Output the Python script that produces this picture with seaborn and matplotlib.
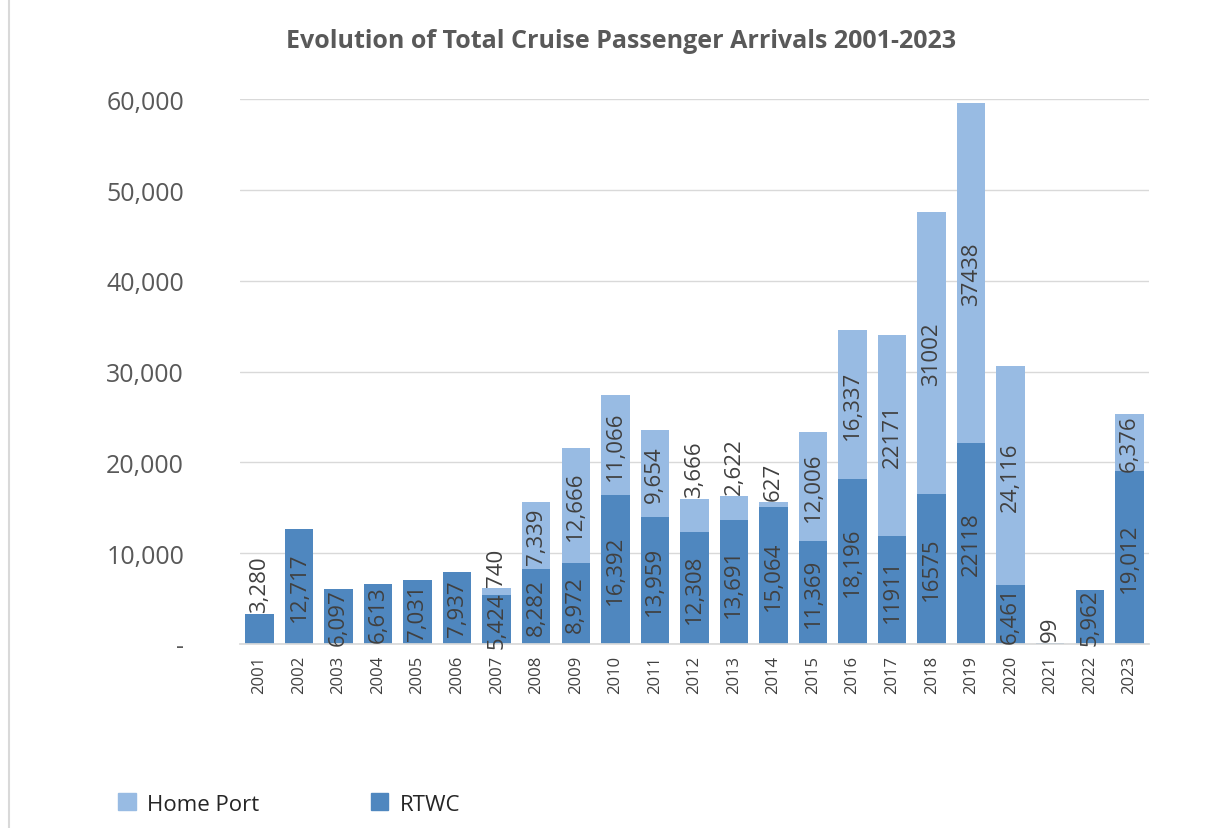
import matplotlib
matplotlib.use("Agg")
import matplotlib.pyplot as plt
import seaborn as sns
import pandas as pd
from matplotlib.patches import Patch

years = [str(y) for y in range(2001, 2024)]
rtwc = [3280, 12717, 6097, 6613, 7031, 7937, 5424, 8282, 8972, 16392, 13959,
        12308, 13691, 15064, 11369, 18196, 11911, 16575, 22118, 6461, 99, 5962, 19012]
home_port = [0, 0, 0, 0, 0, 0, 740, 7339, 12666, 11066, 9654,
             3666, 2622, 627, 12006, 16337, 22171, 31002, 37438, 24116, 0, 0, 6376]
rtwc_labels = ["3,280", "12,717", "6,097", "6,613", "7,031", "7,937", "5,424", "8,282",
               "8,972", "16,392", "13,959", "12,308", "13,691", "15,064", "11,369",
               "18,196", "11911", "16575", "22118", "6,461", "99", "5,962", "19,012"]
hp_labels = ["", "", "", "", "", "", "740", "7,339", "12,666", "11,066", "9,654",
             "3,666", "2,622", "627", "12,006", "16,337", "22171", "31002", "37438",
             "24,116", "", "", "6,376"]

df = pd.DataFrame({"Year": years, "RTWC": rtwc, "Home Port": home_port})
df["Total"] = df["RTWC"] + df["Home Port"]

c_hp = "#98BBE3"
c_rt = "#4F87BF"
txt = "#404040"

sns.set_theme(style="white")
plt.rcParams["font.family"] = ["Open Sans", "DejaVu Sans"]

fig = plt.figure(figsize=(12.29, 8.29), dpi=100)
ax = fig.add_axes([0.195, 0.222, 0.74, 0.657])

sns.barplot(data=df, x="Year", y="Total", color=c_hp, saturation=1, width=0.72,
            edgecolor="none", ax=ax)
sns.barplot(data=df, x="Year", y="RTWC", color=c_rt, saturation=1, width=0.72,
            edgecolor="none", ax=ax)

cont_hp = ax.containers[0]
cont_rt = ax.containers[1]
fs = 16
for i, bar in enumerate(cont_rt):
    x = bar.get_x() + bar.get_width() / 2
    h = rtwc[i]
    lab = rtwc_labels[i]
    if h > 4000:
        ax.text(x, h / 2, lab, rotation=90, ha="center", va="center",
                fontsize=fs, color=txt)
    else:
        ax.text(x, h + 200, lab, rotation=90, ha="center", va="bottom",
                fontsize=fs, color=txt)
for i, bar in enumerate(cont_hp):
    if not hp_labels[i]:
        continue
    x = bar.get_x() + bar.get_width() / 2
    h = home_port[i]
    base = rtwc[i]
    if h > 4000:
        ax.text(x, base + h / 2, hp_labels[i], rotation=90, ha="center", va="center",
                fontsize=fs, color=txt)
    else:
        ax.text(x, base + h + 200, hp_labels[i], rotation=90, ha="center", va="bottom",
                fontsize=fs, color=txt)

ax.set_ylim(0, 60000)
ax.set_yticks(range(0, 60001, 10000))
ax.set_yticklabels(["-", "10,000", "20,000", "30,000", "40,000", "50,000", "60,000"],
                   fontsize=18, color="#595959")
ax.tick_params(axis="y", length=0, pad=40)
ax.tick_params(axis="x", length=0, pad=8)
for lbl in ax.get_xticklabels():
    lbl.set_rotation(90)
    lbl.set_fontsize(12)
    lbl.set_color(txt)
ax.set_xlabel("")
ax.set_ylabel("")
ax.yaxis.grid(True, color="#D9D9D9", linewidth=1)
ax.set_axisbelow(True)
for s in ["top", "right", "left"]:
    ax.spines[s].set_visible(False)
ax.spines["bottom"].set_color("#D9D9D9")

fig.suptitle("Evolution of Total Cruise Passenger Arrivals 2001-2023", x=0.505, y=0.965,
             fontsize=18, fontweight="bold", color="#595959")

handles = [Patch(color=c_hp, label="Home Port"), Patch(color=c_rt, label="RTWC")]
fig.legend(handles=handles, loc="lower left", bbox_to_anchor=(0.08, -0.008), ncol=2,
           frameon=False, fontsize=16, handlelength=0.8, handleheight=0.8,
           columnspacing=5, handletextpad=0.5)

fig.add_artist(plt.Line2D([0.007, 0.007], [0, 1], color="#D9D9D9", linewidth=1.5,
                          transform=fig.transFigure))

fig.savefig("out.png", dpi=100, facecolor="white")
